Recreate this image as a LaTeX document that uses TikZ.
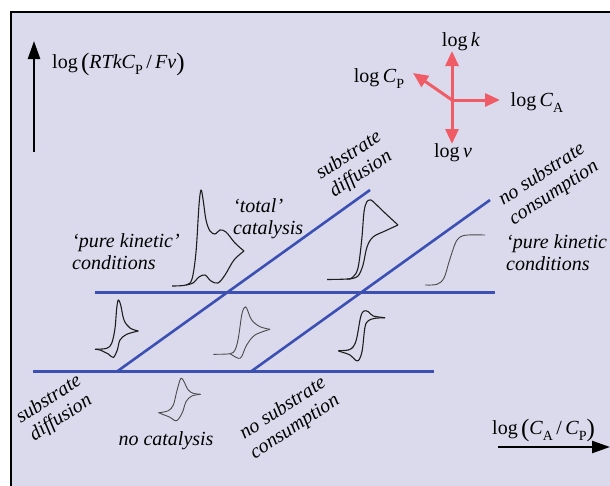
\documentclass[tikz,border=0pt]{standalone}
\usepackage{fontspec}
\setmainfont{Liberation Serif}
\usetikzlibrary{arrows.meta}
\definecolor{bgc}{RGB}{219,218,236}
\definecolor{bluel}{RGB}{60,80,180}
\definecolor{redl}{RGB}{240,92,102}
\definecolor{cvc}{RGB}{30,30,30}
\newcommand{\sbs}[1]{\raisebox{-0.3em}{\fontsize{14}{14}\selectfont #1}}
\newcommand{\bpar}[1]{\raisebox{-0.1em}{\fontsize{25}{25}\selectfont #1}}
\tikzset{
  regline/.style={bluel, line width=2.6pt},
  blackarrow/.style={black, line width=2.4pt, -{Triangle[length=18pt,width=12pt]}},
  redarrow/.style={redl, line width=3pt, -{Triangle[length=15pt,width=13pt]}},
  cv/.style={cvc, line width=1.1pt, line join=round},
  cvthin/.style={cvc!80, line width=0.9pt},
  lbl/.style={font=\fontsize{20}{22}\selectfont\itshape, inner sep=0pt},
  mlbl/.style={font=\fontsize{20}{22}\selectfont, inner sep=0pt},
}
\begin{document}
\begin{tikzpicture}[x=1pt,y=-1pt]
\useasboundingbox (0,0) rectangle (610,485);
\clip (0,0) rectangle (610,485);
\fill[white] (0,0) rectangle (610,485);
\draw[line width=2pt, fill=bgc] (11,12) rectangle (630,500);

% regime boundary lines
\coordinate (u1) at (95,292.5);  \coordinate (u2) at (495,292.5);
\coordinate (l1) at (33,371.5);  \coordinate (l2) at (434,371.5);
\coordinate (d1a) at (117,371.5); \coordinate (d1b) at (370,190);
\coordinate (d2a) at (251,371.5); \coordinate (d2b) at (490,200);
\draw[regline] (u1) -- (u2);
\draw[regline] (l1) -- (l2);
\draw[regline] (d1a) -- (d1b);
\draw[regline] (d2a) -- (d2b);

% axes arrows
\coordinate (ya) at (34,152); \coordinate (yb) at (34,41);
\draw[blackarrow] (ya) -- (yb);
\coordinate (xa) at (498,447); \coordinate (xb) at (610,447);
\draw[blackarrow] (xa) -- (xb);
\node[mlbl, anchor=west] (ylab) at (52,64) {log\,\bpar{(}\textit{RTkC}\sbs{P}\,/\,\textit{Fv}\bpar{)}};
\node[mlbl, anchor=west] (xlab) at (492,430) {log\,\bpar{(}\textit{C}\sbs{A}\,/\,\textit{C}\sbs{P}\bpar{)}};

% red cross
\coordinate (rc) at (452,100);
\coordinate (rk) at (452,51);
\coordinate (rv) at (452,144);
\coordinate (ra) at (500,100);
\coordinate (rp) at (413,73);
\draw[redarrow] (rc) -- (rk);
\draw[redarrow] (rc) -- (rv);
\draw[redarrow] (rc) -- (ra);
\draw[redarrow] (rc) -- (rp);
\node[mlbl] (lk) at (461,42) {log\,\textit{k}};
\node[mlbl] (lv) at (453,153) {log\,\textit{v}};
\node[mlbl] (lcp) at (379,79) {log\,\textit{C}\sbs{P}};
\node[mlbl] (lca) at (537,103) {log\,\textit{C}\sbs{A}};

% regime labels
\node[lbl, align=left, anchor=west] (pk1) at (72,252) {‘pure kinetic’\\conditions};
\node[lbl, align=left, anchor=west] (pk2) at (506,253) {‘pure kinetic\\conditions};
\node[lbl, align=left, anchor=west] (tc) at (233,219) {‘total’\\catalysis};
\node[lbl, align=center, rotate=33] (sd1) at (355,165) {substrate\\diffusion};
\node[lbl, align=center, rotate=33] (nsc1) at (548,184) {no substrate\\consumption};
\node[lbl, align=center, rotate=33] (sd2) at (55,409) {substrate\\diffusion};
\node[lbl, align=center, rotate=33] (nsc2) at (289,418) {no substrate\\consumption};
\node[lbl] (nc) at (166,441) {no catalysis};

% voltammograms
% A: pure kinetic / total catalysis
\draw[cv] plot[smooth, tension=0.55] coordinates {(172,286) (186,285) (192,279) (196,252) (199,205) (201,190) (203,199) (206,220) (210,231) (215,234) (220,230) (226,232) (235,243) (244,251)};
\draw[cv] plot[smooth, tension=0.55] coordinates {(244,251) (234,260) (225,275) (218,283) (211,281) (205,275) (199,277) (193,283) (186,285)};
% B
\draw[cv] plot[smooth, tension=0.55] coordinates {(327,279.5) (347,279) (353,277) (358,268) (361.7,240) (364,212) (366.7,202) (370,200) (373,201.5) (385,213) (398,225)};
\draw[cv] plot[smooth, tension=0.55] coordinates {(398,225) (385,231) (373,237) (367,247) (363,265) (358,276) (350,279) (347,279)};
% C sigmoid
\draw[cvthin] plot[smooth, tension=0.55] coordinates {(425,285) (437,284.3) (444,278) (449,262) (455,244) (460,237) (468,235) (485,235)};
% D
\draw[cv] plot[smooth, tension=0.55] coordinates {(95,349.3) (106.7,348.3) (111.7,343.3) (115,328.3) (116.7,308.3) (118.3,300) (120.7,305) (124,320) (130,328) (138.3,331)};
\draw[cv] plot[smooth, tension=0.55] coordinates {(138.3,331) (126.7,334.3) (120,340) (117.3,350) (113.3,357.5) (108.3,354) (100,350) (95,349.3)};
% E
\draw[cvthin] plot[smooth, tension=0.55] coordinates {(213.3,354.3) (230,353.7) (235,350) (238.3,338.3) (241.7,315) (244.3,307.7) (246.7,308.3) (251.7,320) (260,326.7) (270,329.3)};
\draw[cvthin] plot[smooth, tension=0.55] coordinates {(270,329.3) (255,335) (246.7,345) (241.7,356.5) (238.3,358.3) (233.3,355.7) (230,353.7)};
% F
\draw[cv] plot[smooth, tension=0.55] coordinates {(338.3,350.7) (348.3,350) (353.3,346.7) (356.7,338.3) (360.7,316.7) (364,311) (368.3,311.7) (373.3,316) (385,317.7)};
\draw[cv] plot[smooth, tension=0.55] coordinates {(385,317.7) (375,318.3) (368.3,320.7) (365,327) (362.3,350) (359.3,359.5) (356,360.5) (350,355) (340,351.5) (338.3,350.7)};
% G
\draw[cvthin] plot[smooth, tension=0.55] coordinates {(159.3,412.7) (168.3,410.7) (173.3,405) (176.7,391.7) (180,380) (181.7,378.3) (184,381.7) (188.3,390) (193.3,393.3) (200.7,394.3)};
\draw[cvthin] plot[smooth, tension=0.55] coordinates {(200.7,394.3) (191.7,396) (186,401.7) (182.7,411.7) (178.3,419.3) (175,420.7) (170,417.3) (160,413.3) (159.3,412.7)};
\end{tikzpicture}
\end{document}
